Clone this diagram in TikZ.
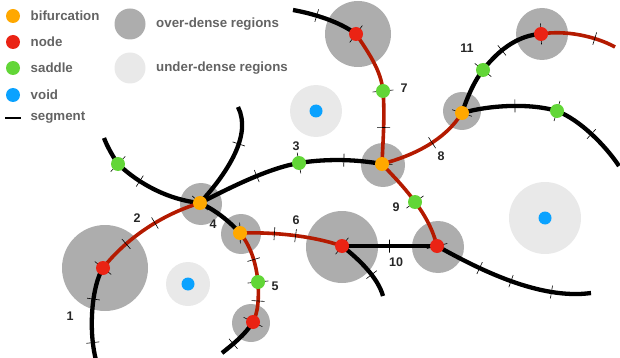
\documentclass[tikz,border=0pt]{standalone}
\usepackage{fontspec}
\setmainfont{Liberation Sans}
\usetikzlibrary{positioning}
\pgfdeclarelayer{bg}
\pgfdeclarelayer{lines}
\pgfsetlayers{bg,lines,main}
\definecolor{bifcol}{HTML}{FFA800}
\definecolor{nodecol}{HTML}{EA2314}
\definecolor{sadcol}{HTML}{62D637}
\definecolor{voidcol}{HTML}{0AA2FF}
\definecolor{filcol}{HTML}{B41A00}
\definecolor{overcol}{HTML}{ADADAD}
\definecolor{undercol}{HTML}{E9E9E9}
\definecolor{legcol}{HTML}{636363}

\begin{document}
\begin{tikzpicture}[x=1pt,y=-1pt,
  dot/.style={circle,inner sep=0pt,minimum size=14pt},
  bif/.style={dot,fill=bifcol},
  crit/.style={dot,fill=nodecol},
  sad/.style={dot,fill=sadcol},
  void/.style={dot,fill=voidcol,minimum size=13pt},
  wall/.style={line width=4.3pt,black},
  fila/.style={line width=3.6pt,filcol},
  segmark/.style={draw,black,line width=0.6pt,rectangle,inner sep=0pt,minimum width=0pt,minimum height=13pt,sloped},
  endmark/.style={segmark,minimum height=21pt},
  lab/.style={font=\bfseries\fontsize{12.5}{14}\selectfont,text=black!85},
  leg/.style={font=\bfseries\fontsize{13.3}{15}\selectfont,text=legcol,anchor=west}]

\useasboundingbox (0,0) rectangle (620,358);

% legend
\node[bif] (kbif) at (13,16) {};
\node[leg,right=7pt of kbif] {bifurcation};
\node[crit] (knode) at (13,42) {};
\node[leg,right=7pt of knode] {node};
\node[sad] (ksad) at (13,68) {};
\node[leg,right=7pt of ksad] {saddle};
\node[void,minimum size=14pt] (kvoid) at (13,95) {};
\node[leg,right=7pt of kvoid] {void};
\coordinate (kseg0) at (5,118);
\coordinate (kseg1) at (21,118);
\draw[line width=1.6pt] (kseg0) -- (kseg1);
\node[leg,right=6pt of kseg1] {segment};
\node[circle,fill=overcol,minimum size=31pt,inner sep=0pt] (kover) at (130,24) {};
\node[leg,right=7pt of kover] {over-dense regions};
\node[circle,fill=undercol,minimum size=31pt,inner sep=0pt] (kunder) at (130,68) {};
\node[leg,right=7pt of kunder] {under-dense regions};

% density regions
\begin{pgfonlayer}{bg}
\fill[overcol] (358,34) circle (33pt);
\fill[overcol] (542,34) circle (26pt);
\fill[overcol] (383,165) circle (22pt);
\fill[overcol] (462,111) circle (19pt);
\fill[overcol] (201,204) circle (21pt);
\fill[overcol] (241,234) circle (20pt);
\fill[overcol] (342,247) circle (36pt);
\fill[overcol] (438,247) circle (26pt);
\fill[overcol] (251,323) circle (19pt);
\fill[overcol] (105,268) circle (43pt);
\fill[undercol] (316,111) circle (26pt);
\fill[undercol] (188,284) circle (22pt);
\fill[undercol] (545,218) circle (36pt);
\end{pgfonlayer}

% critical points
\node[bif] (b0) at (200,203) {};
\node[bif] (b1) at (382,164) {};
\node[bif] (b2) at (462,113) {};
\node[bif] (b3) at (240,233) {};
\node[crit] (n1) at (356,34) {};
\node[crit] (n2) at (541,34) {};
\node[crit] (n3) at (437,246) {};
\node[crit] (n4) at (342,246) {};
\node[crit] (n5) at (253,322) {};
\node[crit] (n6) at (103,268) {};
\node[sad] (s1) at (118,164) {};
\node[sad] (s3) at (299,163) {};
\node[sad] (s5) at (258,282) {};
\node[sad] (s7) at (383,91) {};
\node[sad] (s9) at (415,202) {};
\node[sad] (s11) at (483,70) {};
\node[sad] (s12) at (557,111) {};
\node[void] (v1) at (316,111) {};
\node[void] (v2) at (188,284) {};
\node[void] (v3) at (545,218) {};

% loose ends
\coordinate (e1) at (293,10);
\coordinate (e2) at (615,47);
\coordinate (e3) at (619,166);
\coordinate (e4) at (591,293);
\coordinate (e5) at (383,296);
\coordinate (e6) at (222,353);
\coordinate (e7) at (96,360);
\coordinate (e8) at (104,138);
\coordinate (e9) at (238,107);

% filaments
\begin{pgfonlayer}{lines}
\draw[wall] (e1) .. controls (315,14) and (340,22) .. (n1.center) node[segmark,pos=0.35]{} node[endmark,pos=1]{};
\draw[fila] (n1.center) .. controls (368,52) and (381,70) .. (s7.center) node[endmark,pos=1]{};
\draw[fila] (s7.center) .. controls (385,115) and (383,140) .. (b1.center) node[segmark,pos=0.5]{} node[endmark,pos=1]{};
\draw[fila] (b1.center) .. controls (415,155) and (445,140) .. (b2.center) node[segmark,pos=0.55]{};
\draw[wall] (b2.center) .. controls (468,95) and (475,80) .. (s11.center) node[endmark,pos=0]{} node[endmark,pos=1]{};
\draw[wall] (s11.center) .. controls (500,48) and (520,35) .. (n2.center) node[segmark,pos=0.35]{} node[endmark,pos=1]{};
\draw[fila] (n2.center) .. controls (565,30) and (595,36) .. (e2) node[segmark,pos=0.7]{};
\draw[wall] (b2.center) .. controls (490,105) and (530,103) .. (s12.center) node[segmark,pos=0.55]{} node[endmark,pos=1]{};
\draw[wall] (s12.center) .. controls (580,120) and (605,145) .. (e3) node[segmark,pos=0.5]{};
\draw[fila] (b1.center) .. controls (395,178) and (405,188) .. (s9.center) node[endmark,pos=1]{};
\draw[fila] (s9.center) .. controls (425,215) and (433,230) .. (n3.center) node[endmark,pos=1]{};
\draw[wall] (n3.center) -- (n4.center) node[segmark,pos=0.5]{};
\draw[wall] (n3.center) .. controls (480,270) and (540,300) .. (e4) node[segmark,pos=0.3]{} node[segmark,pos=0.5]{} node[segmark,pos=0.75]{};
\draw[wall] (n4.center) .. controls (360,260) and (378,278) .. (e5) node[segmark,pos=0.6]{} node[endmark,pos=0]{};
\draw[fila] (n4.center) .. controls (310,235) and (270,232) .. (b3.center) node[segmark,pos=0.45]{} node[segmark,pos=0.65]{} node[endmark,pos=1]{};
\draw[fila] (b3.center) .. controls (250,245) and (256,262) .. (s5.center) node[segmark,pos=0.6]{} node[endmark,pos=1]{};
\draw[fila] (s5.center) .. controls (259,300) and (258,312) .. (n5.center) node[segmark,pos=0.4]{} node[endmark,pos=1]{};
\draw[wall] (n5.center) .. controls (245,335) and (232,345) .. (e6) node[segmark,pos=0.65]{};
\draw[wall] (b3.center) .. controls (228,220) and (215,210) .. (b0.center);
\draw[wall] (b0.center) .. controls (228,172) and (252,135) .. (e9) node[segmark,pos=0.6]{} node[endmark,pos=0]{};
\draw[wall] (b0.center) .. controls (235,185) and (270,168) .. (s3.center) node[segmark,pos=0.55]{} node[endmark,pos=1]{};
\draw[wall] (s3.center) .. controls (330,158) and (360,160) .. (b1.center) node[segmark,pos=0.5]{};
\draw[wall] (b0.center) .. controls (170,200) and (140,185) .. (s1.center) node[segmark,pos=0.7]{} node[endmark,pos=1]{};
\draw[wall] (s1.center) .. controls (112,155) and (107,146) .. (e8);
\draw[fila] (b0.center) .. controls (160,215) and (125,240) .. (n6.center) node[segmark,pos=0.4]{} node[segmark,pos=0.7]{} node[endmark,pos=1]{};
\draw[wall] (n6.center) .. controls (92,285) and (88,330) .. (e7) node[segmark,pos=0.4]{} node[segmark,pos=0.82]{};
\end{pgfonlayer}

% segment numbers
\node[lab] (l1) at (70,316) {1};
\node[lab] (l2) at (137,218) {2};
\node[lab] (l3) at (296,146) {3};
\node[lab] (l4) at (213,224) {4};
\node[lab] (l5) at (275,286) {5};
\node[lab] (l6) at (296,220) {6};
\node[lab] (l7) at (404,88) {7};
\node[lab] (l8) at (441,156) {8};
\node[lab] (l9) at (396,207) {9};
\node[lab] (l10) at (396,262) {10};
\node[lab] (l11) at (467,48) {11};

\end{tikzpicture}
\end{document}
